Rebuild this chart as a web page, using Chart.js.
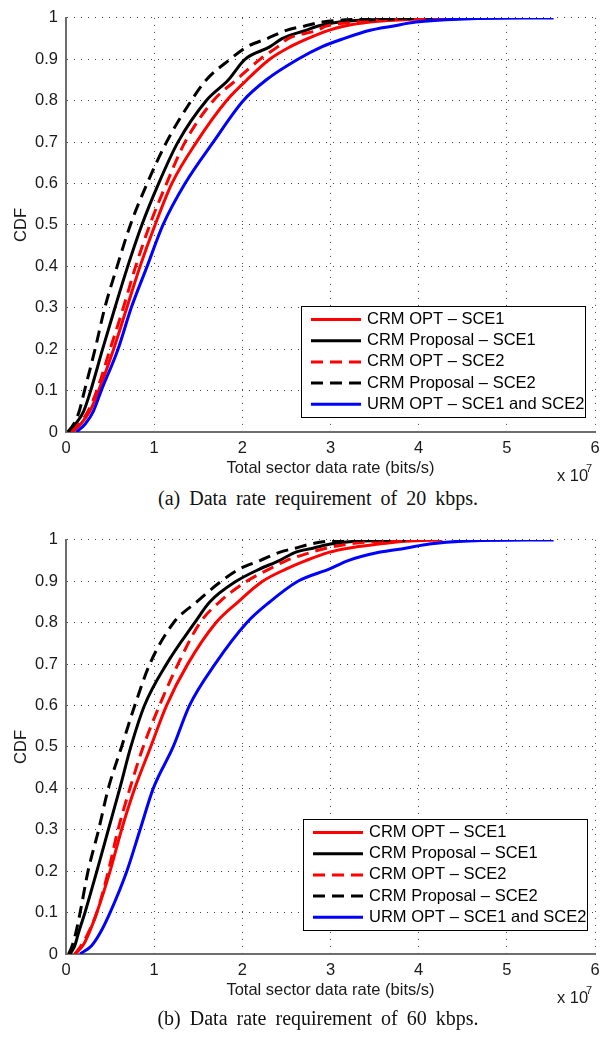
<!DOCTYPE html>
<html>
<head>
<meta charset="utf-8">
<script src="https://cdn.jsdelivr.net/npm/chart.js@4.4.1/dist/chart.umd.min.js"></script>
<style>
  body { margin: 0; background: #fff; width: 607px; height: 1039px; position: relative; overflow: hidden; }
  .plot { position: absolute; left: 0; width: 607px; height: 485px; }
  .caption { position: absolute; left: 0; width: 636px; text-align: center; font-family: "Liberation Serif", "Times New Roman", serif; font-size: 20px; word-spacing: 4px; color: #111; line-height: 24px; }
</style>
</head>
<body>
<div class="plot" style="top:0"><canvas id="chart-a" width="607" height="485"></canvas></div>
<div class="caption" style="top:486px">(a) Data rate requirement of 20 kbps.</div>
<div class="plot" style="top:522px"><canvas id="chart-b" width="607" height="485"></canvas></div>
<div class="caption" style="top:1006px">(b) Data rate requirement of 60 kbps.</div>
<script>
// CDF levels shared by every curve (y values)
const cdfLevels = [0, 0.02, 0.05, 0.1, 0.2, 0.3, 0.4, 0.5, 0.6, 0.7, 0.8, 0.85, 0.9, 0.93, 0.95, 0.97, 0.98, 0.99, 0.997, 1];

const seriesNames = ['CRM OPT \u2013 SCE1', 'CRM Proposal \u2013 SCE1', 'CRM OPT \u2013 SCE2', 'CRM Proposal \u2013 SCE2', 'URM OPT \u2013 SCE1 and SCE2'];
const xTicks = [0, 1, 2, 3, 4, 5, 6];
const yTicks = [0, 0.1, 0.2, 0.3, 0.4, 0.5, 0.6, 0.7, 0.8, 0.9, 1];

// (a) 20 kbps - total sector data rate (x 10^7 bits/s) at each CDF level
const aCrmOpt1  = [0.07, 0.17, 0.27, 0.37, 0.54, 0.69, 0.84, 1.01, 1.20, 1.48, 1.82, 2.05, 2.31, 2.54, 2.74, 2.98, 3.15, 3.45, 3.95, 4.60];
const aCrmProp1 = [0.03, 0.11, 0.20, 0.28, 0.415, 0.555, 0.70, 0.86, 1.05, 1.27, 1.59, 1.84, 2.03, 2.31, 2.45, 2.72, 2.85, 3.10, 3.67, 4.20];
const aCrmOpt2  = [0.06, 0.15, 0.25, 0.35, 0.50, 0.65, 0.79, 0.95, 1.14, 1.35, 1.67, 1.93, 2.20, 2.40, 2.52, 2.85, 2.95, 3.30, 3.85, 4.30];
const aCrmProp2 = [0.02, 0.09, 0.15, 0.21, 0.33, 0.44, 0.58, 0.73, 0.92, 1.14, 1.42, 1.59, 1.86, 2.05, 2.28, 2.50, 2.70, 2.91, 3.35, 3.90];
const aUrmOpt   = [0.12, 0.22, 0.31, 0.40, 0.59, 0.74, 0.92, 1.10, 1.35, 1.67, 2.01, 2.27, 2.63, 2.90, 3.15, 3.45, 3.70, 3.97, 4.45, 5.53];

// (b) 60 kbps
const bCrmOpt1  = [0.10, 0.19, 0.26, 0.35, 0.50, 0.63, 0.78, 0.96, 1.14, 1.38, 1.70, 1.95, 2.23, 2.50, 2.72, 2.98, 3.20, 3.55, 3.85, 4.27];
const bCrmProp1 = [0.045, 0.10, 0.14, 0.215, 0.35, 0.48, 0.61, 0.735, 0.89, 1.14, 1.46, 1.63, 1.93, 2.20, 2.42, 2.60, 2.80, 3.00, 3.30, 3.85];
const bCrmOpt2  = [0.10, 0.17, 0.25, 0.35, 0.48, 0.59, 0.725, 0.875, 1.06, 1.27, 1.52, 1.74, 2.05, 2.31, 2.50, 2.78, 2.95, 3.20, 3.60, 4.13];
const bCrmProp2 = [0.03, 0.07, 0.11, 0.16, 0.25, 0.37, 0.48, 0.63, 0.78, 0.95, 1.22, 1.48, 1.76, 1.97, 2.20, 2.42, 2.60, 2.77, 3.00, 3.67];
const bUrmOpt   = [0.16, 0.29, 0.385, 0.50, 0.69, 0.84, 0.99, 1.215, 1.40, 1.69, 2.05, 2.31, 2.63, 2.99, 3.20, 3.55, 3.85, 4.12, 4.50, 5.53];

const lineColors = ['#ff0000', '#000000', '#ff0000', '#000000', '#0000ff'];
const lineDashed = [false, false, true, true, false];
const dashPattern = [12, 7];
const fontFamily = '"Liberation Sans", Arial, sans-serif';

Chart.defaults.font.family = fontFamily;
Chart.defaults.font.size = 16.5;
Chart.defaults.color = '#1a1a1a';

function makeDatasets(rates) {
  return rates.map((r, i) => ({
    label: seriesNames[i],
    data: r.map((x, k) => ({ x: x, y: cdfLevels[k] })),
    borderColor: lineColors[i],
    borderWidth: 3,
    borderDash: lineDashed[i] ? dashPattern : [],
    pointRadius: 0,
    fill: false,
    cubicInterpolationMode: 'monotone',
    order: 5 - i
  }));
}

// legend box drawn inside the plot, MATLAB style
const boxLegend = {
  id: 'boxLegend',
  afterDatasetsDraw(chart, args, opts) {
    const ctx = chart.ctx;
    ctx.save();
    ctx.fillStyle = '#fff';
    ctx.fillRect(opts.x, opts.y, opts.w, opts.h);
    ctx.strokeStyle = '#000';
    ctx.lineWidth = 1;
    ctx.strokeRect(opts.x + 0.5, opts.y + 0.5, opts.w, opts.h);
    ctx.font = '16.5px ' + fontFamily;
    ctx.textBaseline = 'middle';
    chart.data.datasets.forEach((ds, i) => {
      const y = opts.y + 13.5 + i * 21.2;
      ctx.beginPath();
      ctx.setLineDash(ds.borderDash);
      ctx.strokeStyle = ds.borderColor;
      ctx.lineWidth = 3;
      ctx.moveTo(opts.x + 10, y);
      ctx.lineTo(opts.x + 60, y);
      ctx.stroke();
      ctx.setLineDash([]);
      ctx.fillStyle = '#000';
      ctx.fillText(ds.label, opts.x + 66, y);
    });
    ctx.restore();
  }
};

// "x 10^7" exponent under the x axis
const axisExponent = {
  id: 'axisExponent',
  afterDraw(chart) {
    const ctx = chart.ctx;
    ctx.save();
    ctx.fillStyle = '#1a1a1a';
    ctx.textBaseline = 'middle';
    ctx.font = '16.5px ' + fontFamily;
    ctx.fillText('x 10', 557, 476);
    ctx.font = '11px ' + fontFamily;
    ctx.fillText('7', 586, 469);
    ctx.restore();
  }
};

function makeChart(id, rates, legendPos) {
  return new Chart(document.getElementById(id), {
    type: 'line',
    data: { datasets: makeDatasets(rates) },
    plugins: [boxLegend, axisExponent],
    options: {
      responsive: false,
      animation: false,
      devicePixelRatio: 1,
      layout: { padding: { top: 14, right: 12, bottom: 0, left: 0 } },
      plugins: {
        legend: { display: false },
        tooltip: { enabled: false },
        boxLegend: legendPos
      },
      scales: {
        x: {
          type: 'linear',
          min: 0,
          max: 6,
          afterBuildTicks: s => { s.ticks = xTicks.map(v => ({ value: v })); },
          afterFit: s => { s.height = 53; },
          ticks: { padding: 7, maxRotation: 0 },
          grid: { color: '#444', lineWidth: 1, drawTicks: false },
          border: { color: '#6e6e6e', width: 2, dash: [1, 6] },
          title: { display: true, text: 'Total sector data rate (bits/s)', padding: { top: 0, bottom: 7 } }
        },
        y: {
          type: 'linear',
          min: 0,
          max: 1,
          afterBuildTicks: s => { s.ticks = yTicks.map(v => ({ value: v })); },
          afterFit: s => { s.width = 66; },
          ticks: { padding: 8, callback: v => String(v) },
          grid: { color: '#444', lineWidth: 1, drawTicks: false },
          border: { color: '#6e6e6e', width: 2, dash: [1, 6] },
          title: { display: true, text: 'CDF', padding: { top: 12, bottom: 0 } }
        }
      }
    }
  });
}

makeChart('chart-a', [aCrmOpt1, aCrmProp1, aCrmOpt2, aCrmProp2, aUrmOpt], { x: 301, y: 306, w: 284, h: 111 });
makeChart('chart-b', [bCrmOpt1, bCrmProp1, bCrmOpt2, bCrmProp2, bUrmOpt], { x: 303, y: 297, w: 284, h: 111 });
</script>
</body>
</html>
